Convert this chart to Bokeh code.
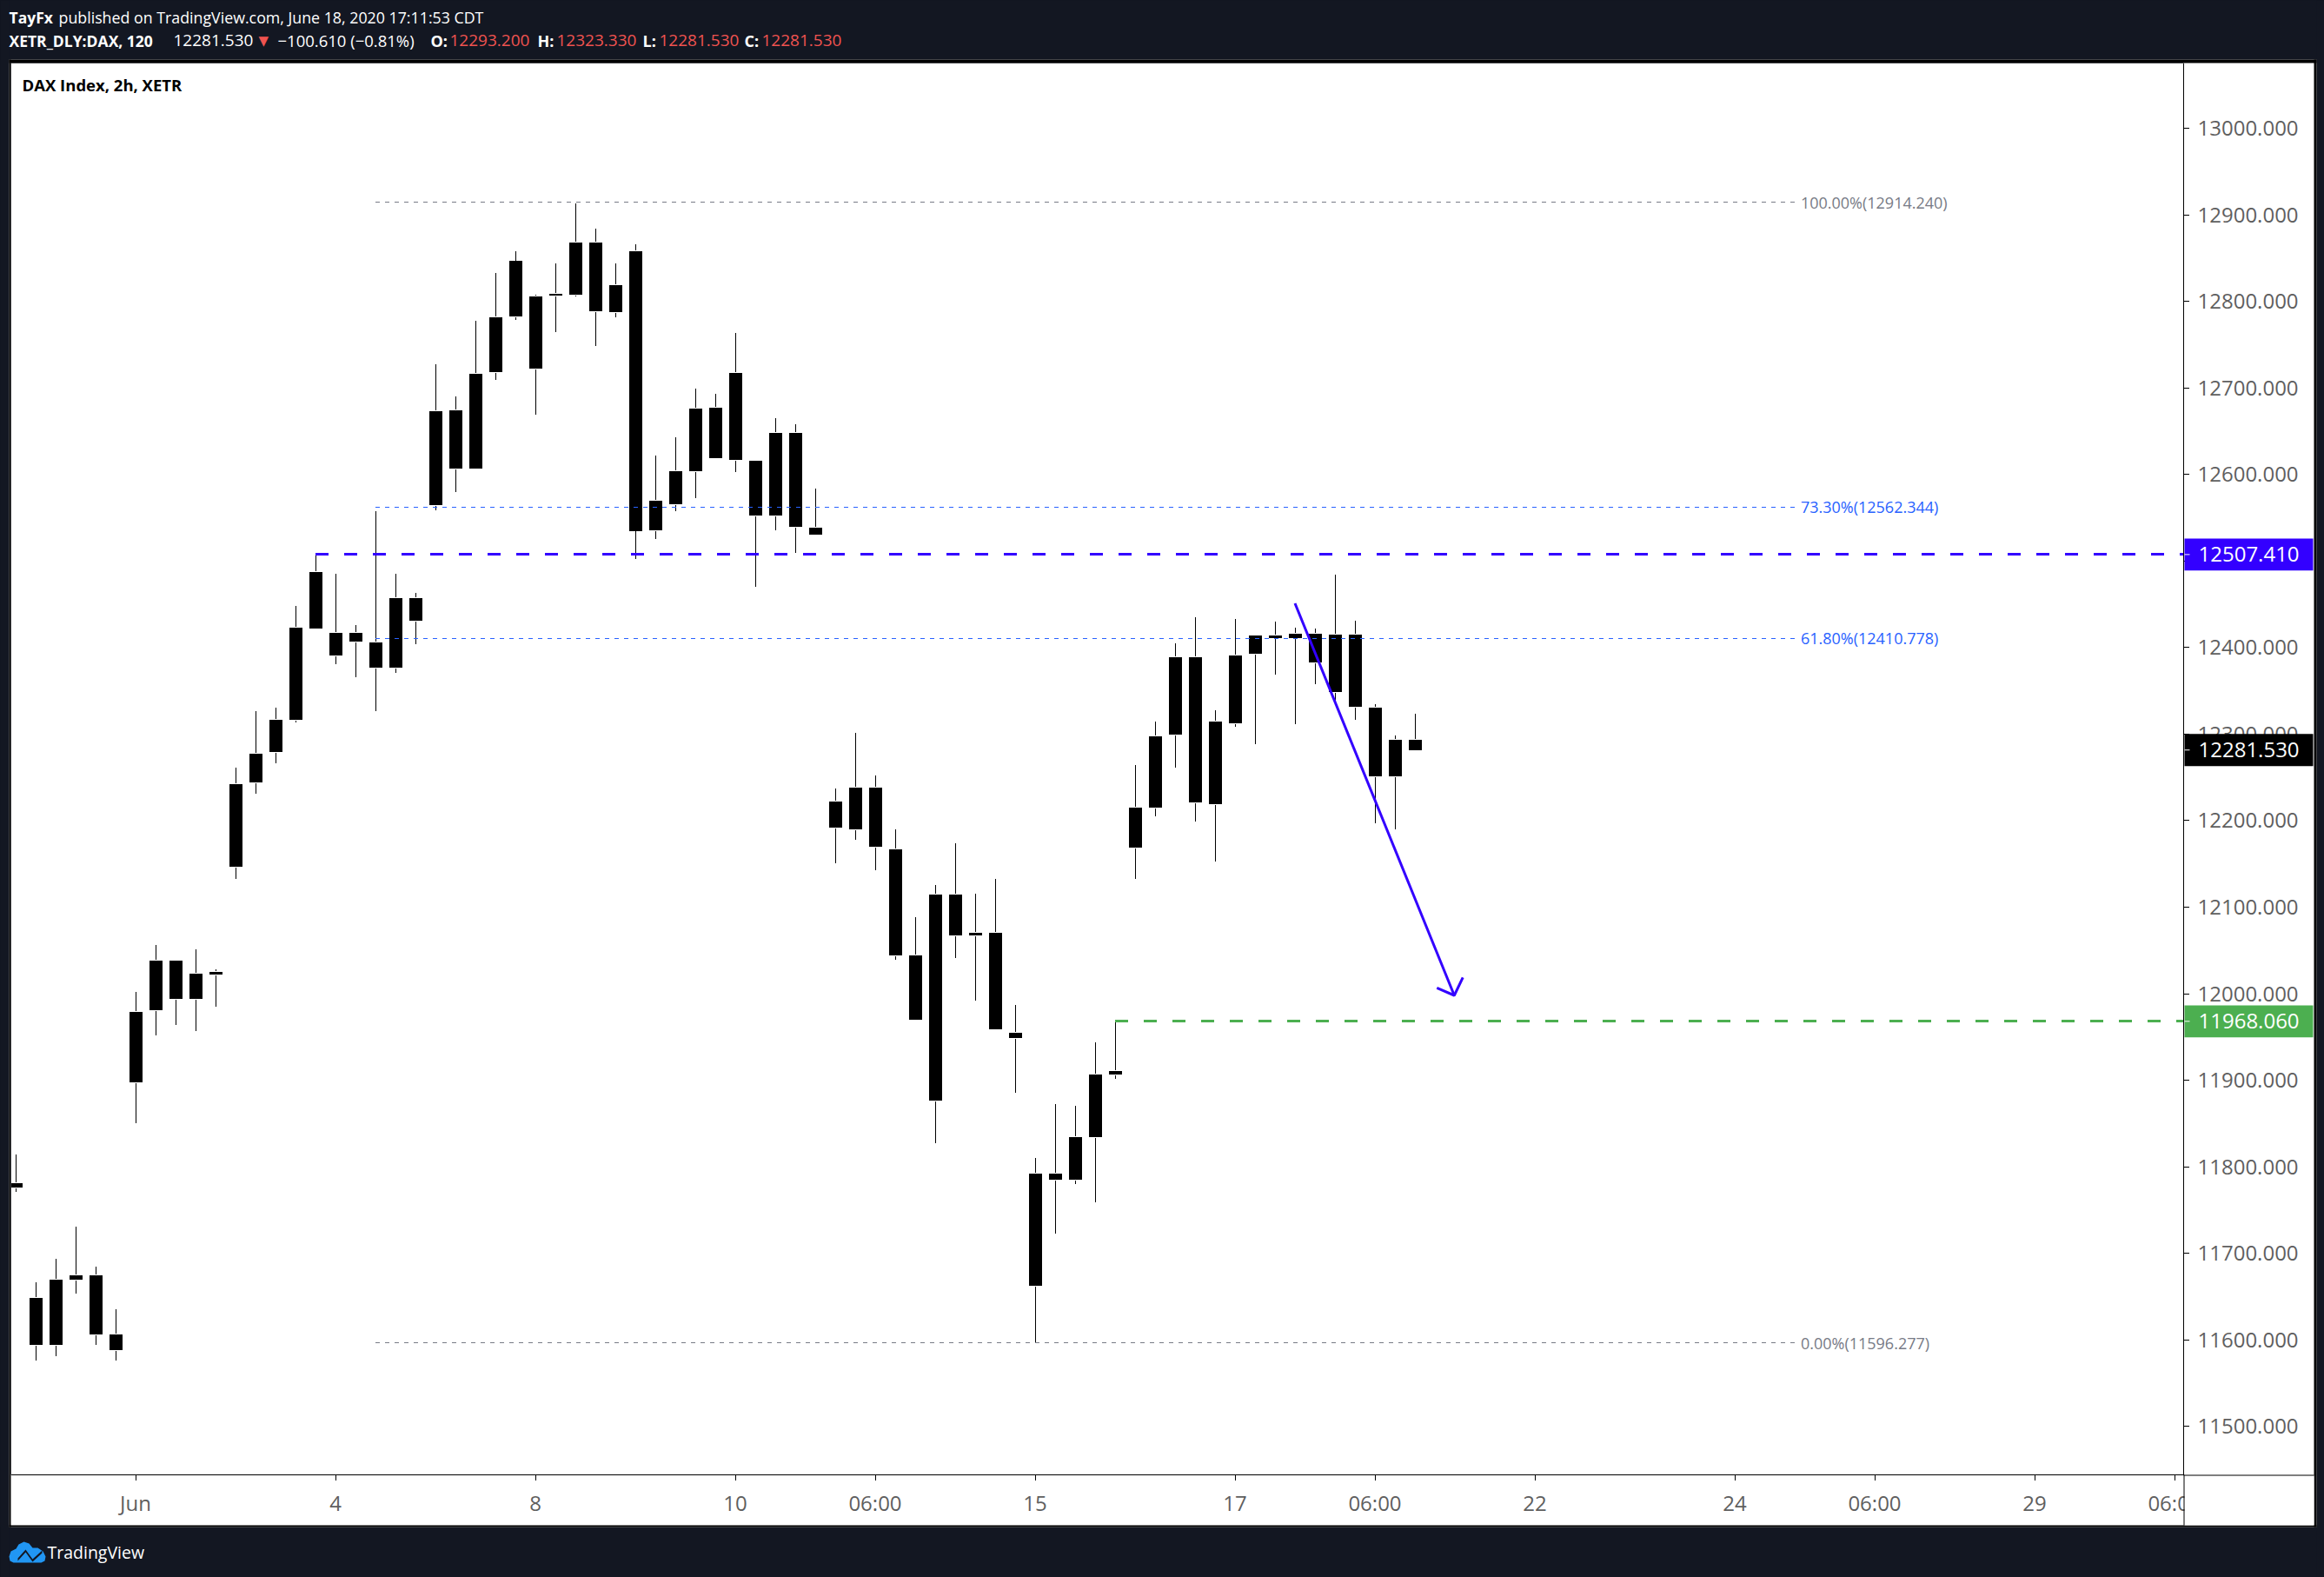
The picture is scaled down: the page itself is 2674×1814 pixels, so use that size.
from bokeh.plotting import figure
from bokeh.models import (BoxAnnotation, Label, PolyAnnotation, FixedTicker, NumeralTickFormatter,
                          Range1d, GlobalInlineStyleSheet)
from bokeh.core.properties import value
from bokeh.embed import file_html
from bokeh.resources import INLINE

# ---- data -------------------------------------------------------------
high = [11813.7,11666.8,11694.1,11730.3,11684.2,11635.7,12001.7,12055.9,12038.6,12051.6,12028.6,
        12260.8,12326.1,12330.1,12448.4,12507.4,12484.7,12425.5,12557.9,12484.7,12463.5,
        12726.8,12689.6,12777.0,12833.2,12858.3,12807.8,12843.3,12912.9,12883.5,12843.3,
        12865.4,12621.3,12642.4,12699.6,12693.6,12763.9,12615.3,12664.5,12657.5,12584.1,
        12236.8,12301.7,12252.4,12190.2,12088.7,12126.0,12173.3,12116.0,12132.2,11986.5,
        11810.4,11872.7,11870.0,11944.2,11966.9,12264.6,12314.7,12405.3,12434.5,12327.8,
        12432.5,12413.4,12429.5,12423.4,12421.4,12483.7,12430.5,12335.0,12297.9,12323.33]
body_top = [11780.6,11648.7,11669.1,11674.1,11674.1,11606.5,11979.4,12038.6,12038.6,12023.6,12025.5,
        12242.5,12277.7,12316.0,12423.3,12486.8,12416.5,12416.5,12405.4,12457.5,12457.5,
        12673.5,12674.5,12716.7,12782.0,12846.3,12806.1,12808.5,12867.4,12867.4,12818.2,
        12858.3,12569.1,12604.2,12676.5,12677.5,12717.7,12615.3,12648.4,12648.4,12538.9,
        12222.4,12238.5,12238.5,12167.2,12043.8,12114.1,12114.1,12070.3,12069.9,11955.3,
        11791.6,11792.3,11833.8,11906.1,11911.1,12214.5,12297.7,12389.2,12389.2,12314.7,
        12390.3,12413.4,12413.4,12415.4,12415.4,12414.4,12414.4,12330.0,12292.9,12293.2]
body_bottom = [11776.5,11594.6,11594.6,11669.1,11606.5,11587.7,11897.1,11980.5,11994.4,11993.6,12021.7,
        12147.1,12243.6,12278.8,12316.8,12422.3,12390.4,12406.4,12377.1,12376.3,12430.5,
        12565.0,12607.2,12607.2,12718.7,12783.0,12722.7,12807.1,12808.1,12789.0,12788.0,
        12534.9,12535.9,12566.0,12604.2,12618.3,12616.3,12552.0,12552.0,12539.9,12529.9,
        12191.5,12190.2,12170.1,12044.5,11970.3,11876.9,12067.6,12067.6,11958.4,11949.2,
        11662.0,11784.6,11784.6,11834.6,11906.9,12168.4,12215.4,12299.1,12220.7,12218.5,
        12312.9,12392.3,12410.4,12410.4,12382.3,12348.1,12331.0,12250.7,12250.7,12281.53]
low = [11770.5,11576.5,11581.5,11653.0,11593.8,11575.7,11850.2,11951.7,11963.6,11956.7,11984.7,
        12133.1,12230.6,12266.6,12313.9,12420.5,12380.3,12365.2,12326.1,12370.3,12404.3,
        12559.0,12580.1,12607.2,12708.7,12778.0,12669.5,12764.9,12806.1,12747.9,12782.0,
        12501.8,12524.9,12558.0,12572.1,12618.3,12603.2,12470.6,12535.9,12508.8,12529.9,
        12150.5,12177.5,12143.1,12039.5,11970.3,11827.7,12040.7,11991.5,11958.4,11885.8,
        11596.3,11723.1,11780.4,11758.5,11901.9,12132.2,12205.4,12261.6,12198.4,12152.3,
        12307.9,12287.8,12368.2,12311.9,12358.1,12337.4,12316.0,12196.4,12189.4,12281.53]
bar_index = list(range(len(high)))

y_ticks = [11500,11600,11700,11800,11900,12000,12100,12200,12300,12400,12500,12600,12700,12800,12900,13000]
x_tick_pos = [6,16,26,36,43,51,61,68,76,86,93,101,108]
x_tick_labels = ["Jun","4","8","10","06:00","15","17","06:00","22","24","06:00","29","06:00"]

fib_prices = [12914.240,12562.344,12410.778,11596.277]
fib_labels = ["100.00%(12914.240)","73.30%(12562.344)","61.80%(12410.778)","0.00%(11596.277)"]
fib_colors = ["#787b86","#2962ff","#2962ff","#787b86"]
fib_start, fib_end, fib_text_x = 18, 89, 89.3

resistance, support = 12507.41, 11968.06
resistance_start, support_start = 15, 55
last_price = 12281.53
arrow_x, arrow_y = [64.0,71.97], [12451.0,11998.0]
head_x, head_y = [71.1,71.97,72.4], [12006.6,11998.0,12018.8]

# ---- styling constants ------------------------------------------------
BG, BLUE, GREEN, RED, GREY = "#131722", "#3300ff", "#4caf50", "#ef5350", "#5f5f5f"
FONT = "Open Sans"
W, H = 2674, 1814
PX_PER_PRICE = 1.0045

def price_at(y):
    return 12400 + (744.3 - y) * PX_PER_PRICE

def index_at(x):
    return (x - 17.5) / 23

# ---- main chart: the frame and its two real axes -----------------------
p = figure(width=W, height=H, output_backend="svg", toolbar_location=None,
           x_range=Range1d(index_at(12), index_at(2512)), y_range=Range1d(price_at(1696), price_at(72)),
           y_axis_location="right",
           min_border_left=12, min_border_right=W-2512, min_border_top=72, min_border_bottom=H-1696,
           background_fill_color="white", border_fill_color="white", outline_line_color=None,
           css_classes=["crisp-chart"])
p.grid.visible = False
p.stylesheets = [GlobalInlineStyleSheet(css="html,body{background:#131722;}"
                 ".crisp-chart{shape-rendering:crispEdges;}"
                 ".page-overlay{position:absolute!important;left:0!important;top:0!important;pointer-events:none;}")]

for ax in (p.xaxis[0], p.yaxis[0]):
    ax.axis_line_color = "black"
    ax.major_tick_line_color = "black"
    ax.major_tick_in = 0
    ax.major_tick_out = 6
    ax.minor_tick_line_color = None
    ax.major_label_text_font = FONT
    ax.major_label_text_font_size = "24px"
    ax.major_label_text_color = GREY
    ax.major_label_standoff = 10
p.xaxis[0].major_label_standoff = 9
p.yaxis[0].ticker = FixedTicker(ticks=y_ticks)
p.yaxis[0].formatter = NumeralTickFormatter(format="0.000")
p.xaxis[0].ticker = FixedTicker(ticks=x_tick_pos)
p.xaxis[0].major_label_overrides = dict(zip(x_tick_pos, x_tick_labels))

# candles: wick, a one pixel white halo, then the black body
BODY = 15/23
HALO = 1.0
p.segment(bar_index, high, bar_index, low, line_color="black", line_width=1)
p.vbar(x=bar_index, top=[v+HALO for v in body_top], bottom=[v-HALO for v in body_bottom], width=BODY,
       fill_color="white", line_color=None)
p.vbar(x=bar_index, top=body_top, bottom=body_bottom, width=BODY, fill_color="black", line_color=None)

# fibonacci levels
p.segment([fib_start]*4, fib_prices, [fib_end]*4, fib_prices, line_color=fib_colors, line_width=1, line_dash="5 6")
p.text([fib_text_x]*4, fib_prices, text=fib_labels, text_color=fib_colors, text_font=value(FONT),
       text_font_size="18px", text_baseline="middle")

# horizontal levels
p.line([resistance_start, index_at(2512)], [resistance]*2, line_color=BLUE, line_width=3, line_dash="15 18")
p.line([support_start, index_at(2512)], [support]*2, line_color=GREEN, line_width=3, line_dash="15 18")

# ---- overlay: page chrome, arrow, price tags and texts over the whole canvas
o = figure(width=W, height=H, output_backend="svg", toolbar_location=None,
           x_range=Range1d(index_at(0), index_at(W)), y_range=Range1d(price_at(H), price_at(0)),
           x_axis_type=None, y_axis_type=None, min_border=0,
           background_fill_alpha=0, border_fill_alpha=0, outline_line_color=None,
           css_classes=["page-overlay"])
o.grid.visible = False

# arrow
o.line(arrow_x, arrow_y, line_color=BLUE, line_width=3)
o.line(head_x, head_y, line_color=BLUE, line_width=3)

def box(l, r, t, b, color):
    o.add_layout(BoxAnnotation(left=l, right=r, top=t, bottom=b,
                               left_units="canvas", right_units="canvas", top_units="canvas", bottom_units="canvas",
                               fill_color=color, fill_alpha=1, line_color=None))

def tag(price, color):
    half = 18.5
    o.add_layout(BoxAnnotation(left=2513, right=2661, top=price+half, bottom=price-half,
                               left_units="canvas", right_units="canvas", fill_color=color, fill_alpha=1,
                               line_color=None))
    o.add_layout(BoxAnnotation(left=2513, right=2519, top=price+0.5, bottom=price-0.5,
                               left_units="canvas", right_units="canvas", fill_color="white", fill_alpha=1,
                               line_color=None))
    o.add_layout(Label(x=2529, y=price, x_units="canvas", y_units="data", text=f"{price:.3f}",
                       text_font=FONT, text_font_size="24px", text_color="white",
                       text_baseline="middle"))

def label(x, y, text, color="white", size="18px", style="normal", font=FONT):
    o.add_layout(Label(x=x, y=y, x_units="canvas", y_units="canvas", text=text, text_font=font,
                       text_font_size=size, text_color=color, text_font_style=style,
                       text_baseline="middle"))

# dark page band and black rim around the white chart
box(0, W, 0, 68, BG); box(0, W, 1756, H, BG); box(0, 10, 0, H, BG); box(2665, W, 0, H, BG)
box(10, 2665, 68, 72, "black"); box(10, 2665, 1754, 1756, "black")
box(10, 12, 68, 1756, "black"); box(2662, 2665, 68, 1756, "black")

# clipped corner and crossing axis lines
box(2513, 2662, 1697, 1754, "white")
box(2512, 2513, 1696, 1754, "black")
box(2512, 2662, 1696, 1697, "black")

tag(resistance, BLUE)
tag(support, GREEN)
tag(last_price, "black")

label(25, 97, "DAX Index, 2h, XETR", color="black", style="bold", size="18.5px")
label(10, 19, "TayFx", style="bold", size="17.5px")
label(67, 19, "published on TradingView.com, June 18, 2020 17:11:53 CDT", size="17.8px")
label(10, 46, "XETR_DLY:DAX, 120", style="bold", size="17.5px")
label(199, 46, "12281.530", size="19px")
label(297, 46, "▼", color=RED, size="15px", font="DejaVu Sans")
label(319, 46, "−100.610 (−0.81%)", size="18.5px")
for x0, name, x1, val in [(495,"O:",517,"12293.200"),(618,"H:",640,"12323.330"),
                          (739,"L:",758,"12281.530"),(856,"C:",876,"12281.530")]:
    label(x0, 46, name, style="bold")
    label(x1, 46, val, color=RED, size="19px")

label(54, 1785, "TradingView", size="19.5px")
cloud_x = [10,12,18,21,27,33,37,43,49,52,51,47,15,11]
cloud_y = [1790,1784,1781,1776,1773,1775,1780,1780,1784,1790,1795,1797,1797,1795]
o.add_layout(PolyAnnotation(xs=cloud_x, ys=cloud_y, xs_units="canvas", ys_units="canvas",
                            fill_color="#2196f3", fill_alpha=1, line_color=None))
zig_x = [20,29,37,48,48,37,29,20]
zig_y = [1792,1782,1793,1783,1786,1796,1785,1795]
o.add_layout(PolyAnnotation(xs=zig_x, ys=zig_y, xs_units="canvas", ys_units="canvas",
                            fill_color=BG, fill_alpha=1, line_color=None))

open("out.html", "w").write(file_html([p, o], INLINE))
